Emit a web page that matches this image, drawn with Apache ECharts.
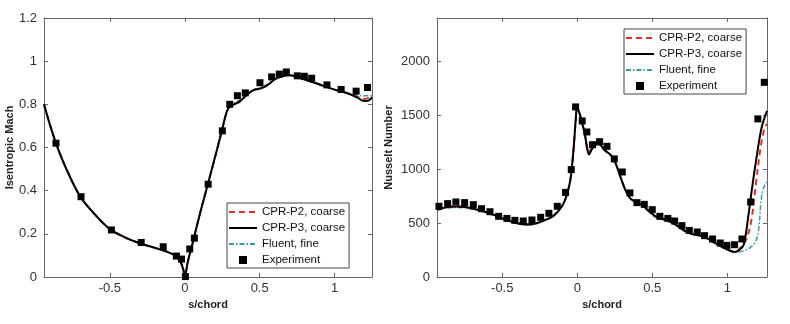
<!DOCTYPE html>
<html>
<head>
<meta charset="utf-8">
<script src="https://cdn.jsdelivr.net/npm/echarts@6/dist/echarts.min.js"></script>
<style>html,body{margin:0;padding:0;background:#fff}#c{width:790px;height:324px}</style>
</head>
<body>
<div id="c"></div>
<script>
// ---------- Data: left panel (Isentropic Mach) ----------
const machP2 = [[-0.94,0.80],[-0.9,0.705],[-0.86,0.62],[-0.8,0.515],[-0.7,0.375],[-0.6,0.29],[-0.5,0.222],[-0.4,0.184],[-0.3,0.156],[-0.2,0.135],[-0.1,0.112],[-0.05,0.092],[-0.025,0.065],[-0.01,0.035],[0,0.003],[0.02,0.07],[0.05,0.15],[0.1,0.29],[0.15,0.42],[0.2,0.55],[0.25,0.685],[0.28,0.765],[0.3,0.79],[0.33,0.8],[0.37,0.815],[0.42,0.848],[0.46,0.866],[0.5,0.872],[0.55,0.888],[0.6,0.915],[0.65,0.93],[0.7,0.935],[0.8,0.915],[0.9,0.892],[1.0,0.868],[1.1,0.848],[1.15,0.835],[1.2,0.825],[1.23,0.83],[1.25,0.838]];
const machP3 = [[-0.94,0.80],[-0.9,0.705],[-0.86,0.62],[-0.8,0.515],[-0.7,0.375],[-0.6,0.29],[-0.5,0.222],[-0.4,0.184],[-0.3,0.156],[-0.2,0.135],[-0.1,0.112],[-0.05,0.092],[-0.025,0.065],[-0.01,0.035],[0,0.003],[0.02,0.07],[0.05,0.15],[0.1,0.29],[0.15,0.42],[0.2,0.55],[0.25,0.685],[0.28,0.765],[0.3,0.79],[0.33,0.8],[0.37,0.815],[0.42,0.848],[0.46,0.866],[0.5,0.872],[0.55,0.888],[0.6,0.915],[0.65,0.93],[0.7,0.935],[0.8,0.915],[0.9,0.892],[1.0,0.868],[1.1,0.848],[1.15,0.832],[1.2,0.815],[1.23,0.818],[1.25,0.832]];
const machFluent = [[-0.94,0.79],[-0.9,0.70],[-0.86,0.617],[-0.8,0.513],[-0.7,0.374],[-0.6,0.289],[-0.5,0.222],[-0.4,0.185],[-0.3,0.157],[-0.2,0.136],[-0.1,0.113],[-0.05,0.093],[-0.025,0.066],[-0.01,0.036],[0,0.005],[0.02,0.07],[0.05,0.15],[0.1,0.29],[0.15,0.42],[0.2,0.55],[0.25,0.683],[0.28,0.765],[0.3,0.792],[0.33,0.805],[0.37,0.822],[0.42,0.852],[0.46,0.868],[0.5,0.876],[0.55,0.892],[0.6,0.917],[0.65,0.93],[0.7,0.934],[0.8,0.915],[0.9,0.893],[1.0,0.869],[1.1,0.85],[1.15,0.842],[1.2,0.84],[1.23,0.84],[1.25,0.84]];
const machExp = [[-0.86,0.62],[-0.693,0.372],[-0.49,0.218],[-0.291,0.16],[-0.144,0.14],[-0.056,0.097],[-0.022,0.083],[0.004,0.002],[0.033,0.13],[0.064,0.18],[0.156,0.43],[0.251,0.677],[0.30,0.80],[0.351,0.84],[0.404,0.853],[0.502,0.90],[0.58,0.927],[0.631,0.94],[0.678,0.95],[0.751,0.932],[0.798,0.93],[0.847,0.921],[0.949,0.89],[1.044,0.869],[1.144,0.861],[1.22,0.878]];

// ---------- Data: right panel (Nusselt Number) ----------
const nuP2 = [[-0.933,624],[-0.9,638],[-0.85,650],[-0.8,653],[-0.75,648],[-0.7,635],[-0.6,598],[-0.5,545],[-0.4,498],[-0.33,487],[-0.28,495],[-0.22,525],[-0.16,565],[-0.1,660],[-0.07,760],[-0.045,910],[-0.025,1180],[-0.01,1460],[-0.002,1565],[0.01,1540],[0.03,1440],[0.05,1330],[0.065,1210],[0.078,1150],[0.1,1195],[0.14,1235],[0.18,1180],[0.23,1120],[0.26,1040],[0.29,920],[0.32,810],[0.36,720],[0.43,670],[0.52,565],[0.6,525],[0.65,490],[0.74,410],[0.8,390],[0.85,370],[0.9,330],[0.96,284],[1.0,255],[1.05,232],[1.1,290],[1.13,360],[1.16,520],[1.19,850],[1.22,1180],[1.245,1360],[1.265,1420]];
const nuP3 = [[-0.933,624],[-0.9,638],[-0.85,650],[-0.8,653],[-0.75,648],[-0.7,635],[-0.6,598],[-0.5,545],[-0.4,498],[-0.33,487],[-0.28,495],[-0.22,525],[-0.16,565],[-0.1,660],[-0.07,760],[-0.045,910],[-0.025,1180],[-0.01,1460],[-0.002,1565],[0.01,1540],[0.03,1440],[0.05,1330],[0.065,1200],[0.078,1135],[0.1,1190],[0.14,1240],[0.18,1180],[0.23,1120],[0.26,1040],[0.29,920],[0.32,810],[0.36,720],[0.43,670],[0.52,565],[0.6,525],[0.65,490],[0.74,410],[0.8,390],[0.85,370],[0.9,330],[0.96,284],[1.0,255],[1.05,232],[1.08,250],[1.11,300],[1.14,560],[1.17,870],[1.2,1150],[1.23,1390],[1.265,1540]];
const nuFluent = [[-0.933,615],[-0.9,630],[-0.85,642],[-0.8,645],[-0.75,640],[-0.7,628],[-0.6,592],[-0.5,540],[-0.4,495],[-0.33,483],[-0.28,492],[-0.22,520],[-0.16,562],[-0.1,655],[-0.07,755],[-0.045,905],[-0.025,1170],[-0.01,1450],[-0.002,1545],[0.01,1525],[0.03,1430],[0.05,1320],[0.065,1215],[0.078,1170],[0.1,1195],[0.14,1225],[0.18,1175],[0.23,1115],[0.26,1035],[0.29,915],[0.32,805],[0.36,715],[0.43,660],[0.52,555],[0.6,518],[0.65,485],[0.74,405],[0.8,385],[0.85,365],[0.9,325],[0.96,280],[1.0,252],[1.05,230],[1.1,240],[1.15,270],[1.19,330],[1.21,450],[1.225,700],[1.24,820],[1.265,880]];
const nuExp = [[-0.922,655],[-0.864,680],[-0.809,695],[-0.751,689],[-0.693,670],[-0.638,633],[-0.582,605],[-0.524,562],[-0.469,543],[-0.416,525],[-0.36,519],[-0.302,528],[-0.244,553],[-0.189,590],[-0.133,655],[-0.078,784],[-0.04,995],[-0.011,1576],[0.033,1446],[0.064,1344],[0.102,1226],[0.149,1254],[0.198,1211],[0.247,1094],[0.30,973],[0.351,779],[0.398,689],[0.447,673],[0.50,624],[0.551,562],[0.604,543],[0.649,519],[0.698,476],[0.747,432],[0.80,417],[0.849,383],[0.902,352],[0.953,315],[0.998,293],[1.049,299],[1.098,352],[1.156,695],[1.204,1465],[1.247,1804]];

// ---------- Tick values ----------
const xTicks = [-0.5, 0, 0.5, 1];
const machTicks = [0, 0.2, 0.4, 0.6, 0.8, 1, 1.2];
const nuTicks = [0, 500, 1000, 1500, 2000];
const seriesNames = ['CPR-P2, coarse', 'CPR-P3, coarse', 'Fluent, fine', 'Experiment'];

const FONT = "'Liberation Sans', Arial, Helvetica, sans-serif";
const AX = '#666';
const RED = '#d8322c', BLACK = '#000', TEAL = '#3c98a6';

function xAx(grid, min, max, bottom) {
  return {
    type: 'value', gridIndex: grid, min: min, max: max, position: bottom ? 'bottom' : 'top',
    axisLine: { show: true, onZero: false, lineStyle: { color: AX, width: 1 } },
    axisTick: { show: true, inside: true, length: 4, customValues: xTicks, lineStyle: { color: AX } },
    axisLabel: { show: bottom, customValues: xTicks, fontSize: 13, color: '#333', fontFamily: FONT, margin: 5,
                 formatter: v => String(v) },
    splitLine: { show: false },
    name: bottom ? 's/chord' : '', nameLocation: 'middle', nameGap: 22,
    nameTextStyle: { fontSize: 11, fontWeight: 'bold', color: '#222', fontFamily: FONT }
  };
}
function yAx(grid, min, max, ticks, left, name, gap) {
  return {
    type: 'value', gridIndex: grid, min: min, max: max, position: left ? 'left' : 'right',
    axisLine: { show: true, onZero: false, lineStyle: { color: AX, width: 1 } },
    axisTick: { show: true, inside: true, length: 4, customValues: ticks, lineStyle: { color: AX } },
    axisLabel: { show: left, customValues: ticks, fontSize: 13, color: '#333', fontFamily: FONT, margin: 7,
                 formatter: v => String(v) },
    splitLine: { show: false },
    name: left ? name : '', nameLocation: 'middle', nameGap: gap,
    nameTextStyle: { fontSize: 11, fontWeight: 'bold', color: '#222', fontFamily: FONT }
  };
}
function lineS(name, data, xi, yi, color, type, width) {
  return { name: name, type: 'line', xAxisIndex: xi, yAxisIndex: yi, data: data,
    symbol: 'none', smooth: 0.35, lineStyle: { color: color, type: type, width: width },
    itemStyle: { color: color }, z: 3 };
}
function expS(data, xi, yi) {
  return { name: 'Experiment', type: 'scatter', xAxisIndex: xi, yAxisIndex: yi, data: data,
    symbol: 'rect', symbolSize: 7, itemStyle: { color: '#000', opacity: 1 }, z: 5 };
}
function legendAt(left, top, idx) {
  const hide = { opacity: 0, borderWidth: 0 };
  return {
    id: 'lg' + idx,
    left: left, top: top, orient: 'vertical', itemWidth: 28, itemHeight: 8, itemGap: 4,
    padding: [3, 4, 2, 1], borderColor: '#444', borderWidth: 1, backgroundColor: '#fff',
    textStyle: { fontSize: 11.5, lineHeight: 11, color: '#111', fontFamily: FONT },
    data: [
      { name: seriesNames[0], itemStyle: hide }, { name: seriesNames[1], itemStyle: hide },
      { name: seriesNames[2], itemStyle: hide },
      { name: seriesNames[3], icon: 'path://M0,0H10V10H0Z', itemStyle: { color: '#000', opacity: 1 } }
    ]
  };
}

const chart = echarts.init(document.getElementById('c'), null, { renderer: 'canvas' });

chart.setOption({
  animation: false,
  backgroundColor: '#fff',
  grid: [
    { left: 44, right: 418, top: 18, bottom: 47, containLabel: false },
    { left: 437, right: 23, top: 18, bottom: 47, containLabel: false }
  ],
  xAxis: [ xAx(0, -0.94, 1.25, true), xAx(0, -0.94, 1.25, false),
           xAx(1, -0.935, 1.265, true), xAx(1, -0.935, 1.265, false) ],
  yAxis: [ yAx(0, 0, 1.2, machTicks, true, 'Isentropic Mach', 28),
           yAx(0, 0, 1.2, machTicks, false, '', 0),
           yAx(1, 0, 2400, nuTicks, true, 'Nusselt Number', 43),
           yAx(1, 0, 2400, nuTicks, false, '', 0) ],
  legend: [ legendAt(227, 203, 0), legendAt(624, 29, 1) ],
  series: [
    lineS('Fluent, fine', machFluent, 0, 0, TEAL, [5, 2, 1.5, 2], 1.5),
    lineS('CPR-P2, coarse', machP2, 0, 0, RED, [6, 4], 2),
    lineS('CPR-P3, coarse', machP3, 0, 0, BLACK, 'solid', 2),
    expS(machExp, 0, 0),
    lineS('Fluent, fine', nuFluent, 2, 2, TEAL, [5, 2, 1.5, 2], 1.5),
    lineS('CPR-P2, coarse', nuP2, 2, 2, RED, [6, 4], 2),
    lineS('CPR-P3, coarse', nuP3, 2, 2, BLACK, 'solid', 2),
    expS(nuExp, 2, 2)
  ]
});
</script>
</body>
</html>
